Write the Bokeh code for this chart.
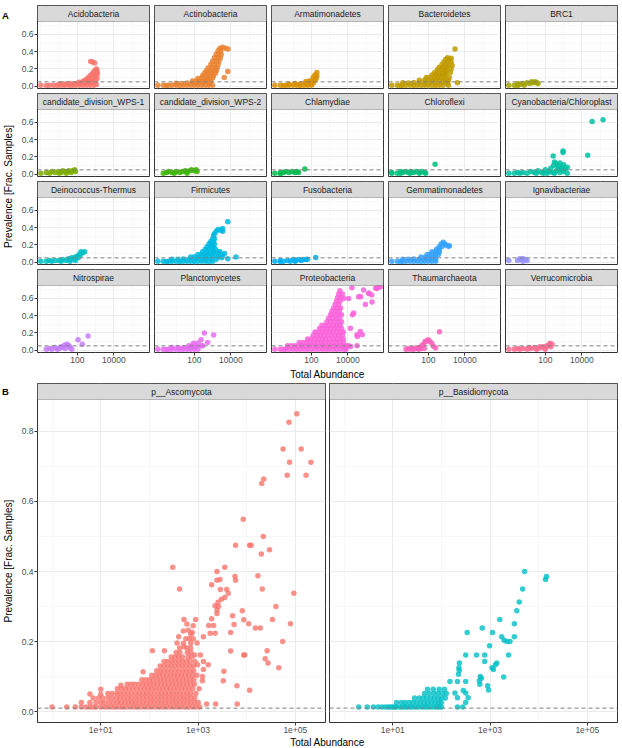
from bokeh.plotting import figure
from bokeh.models import (Range1d, FixedTicker, LinearAxis, LogAxis, Grid,
                          BoxAnnotation, Span, Label, CustomJSTickFormatter,
                          ColumnDataSource)
from bokeh.layouts import row, column
from bokeh.embed import file_html
from bokeh.resources import INLINE

FONT = "Liberation Sans"

# ---------------------------------------------------------------------------
# Bacterial phyla: (total abundance, prevalence [fraction of samples]) per taxon
# ---------------------------------------------------------------------------
acidobacteria = [
    (1, .010), (2, .008), (3, .012), (5, .010), (8, .009), (13, .011), (20, .010), (32, .012),
    (50, .009), (79, .011), (126, .010), (200, .012), (316, .010), (501, .011), (794, .012), (1100, .020),
    (10, .025), (16, .028), (25, .022), (40, .030), (63, .027), (100, .035), (158, .030), (251, .028),
    (398, .030), (631, .035),
    (126, .045), (200, .055), (251, .065), (316, .050), (316, .080), (398, .070), (398, .100), (501, .060),
    (501, .090), (501, .120), (631, .080), (631, .110), (631, .140), (794, .100), (794, .130), (794, .170),
    (891, .150), (1000, .120), (1000, .190), (1100, .160), (1120, .200), (1000, .060), (1200, .090),
    (1200, .180), (1259, .140),
    (540, .285), (708, .280), (891, .270), (1000, .175),
]
actinobacteria = [
    (1, .010), (2, .010), (3, .008), (4, .012), (6, .010), (10, .011), (16, .009), (25, .010),
    (40, .012), (63, .010), (100, .011), (158, .010), (251, .012), (398, .010), (631, .011), (1000, .012),
    (10, .035), (20, .032), (40, .038), (79, .035), (158, .036), (316, .034), (631, .038),
    (79, .060), (126, .062), (200, .058), (316, .060), (501, .064), (794, .060),
    (158, .090), (251, .092), (398, .088), (631, .090), (1000, .094),
    (282, .120), (447, .122), (708, .118), (1122, .120),
    (355, .150), (562, .152), (891, .148), (1413, .150),
    (447, .180), (708, .182), (1122, .178), (1585, .180),
    (562, .210), (891, .212), (1413, .208), (1778, .210),
    (794, .250), (1259, .252), (1995, .248),
    (1000, .290), (1585, .292), (2239, .288),
    (1259, .330), (1995, .332), (2630, .328),
    (1585, .370), (2239, .372), (2951, .368),
    (1995, .410), (2818, .412),
    (2512, .440), (3548, .450), (5012, .440), (7079, .430),
    (6761, .170), (4365, .100), (676, .030),
]
armatimonadetes = [
    (1, .010), (2, .012), (3, .009), (4, .010), (6, .011), (10, .010), (16, .012), (25, .009),
    (40, .010), (63, .011), (100, .010),
    (6, .025), (13, .030), (25, .028), (50, .032), (79, .030), (126, .035),
    (50, .055), (79, .060), (112, .060), (158, .065),
    (126, .100), (178, .100), (158, .130), (200, .160), (200, .120), (178, .085),
]
bacteroidetes = [
    (1, .010), (2, .012), (3, .009), (4, .011), (6, .010), (10, .012), (16, .009), (25, .011),
    (40, .010), (63, .012), (100, .010), (158, .011), (251, .009), (398, .012), (631, .010),
    (4, .040), (8, .038), (16, .042), (32, .040), (63, .038), (126, .042), (251, .040), (501, .038),
    (891, .042), (1122, .040),
    (32, .070), (63, .072), (100, .068), (158, .070), (251, .072), (398, .068), (708, .070), (1259, .070),
    (79, .100), (126, .102), (200, .098), (316, .100), (501, .102), (794, .098), (1413, .100),
    (158, .130), (251, .132), (398, .128), (631, .130), (891, .132),
    (224, .160), (355, .162), (562, .158), (891, .160), (1585, .160),
    (316, .190), (501, .192), (794, .188), (1000, .190),
    (398, .220), (631, .222), (1000, .218), (1778, .200),
    (562, .250), (891, .252), (1413, .248), (1995, .240),
    (708, .280), (1122, .282), (1778, .278),
    (891, .310), (1413, .312), (1122, .330), (1778, .325),
    (2884, .430), (1259, .010), (3890, .040),
]
brc1 = [
    (1, .010), (2, .010), (3, .030), (4, .020), (6, .030), (7, .010), (10, .040), (14, .030),
    (18, .050), (22, .040), (28, .050), (35, .040), (40, .030), (3, .005),
]
wps1 = [
    (1, .010), (2, .020), (3, .010), (4, .030), (6, .020), (9, .030), (13, .020), (16, .040),
    (20, .030), (28, .030), (35, .040), (45, .020), (56, .040), (71, .050), (79, .030), (10, .010), (25, .010),
]
wps2 = [
    (2, .010), (3, .020), (4, .030), (6, .020), (10, .030), (16, .020), (22, .030), (32, .040),
    (40, .030), (56, .040), (71, .050), (100, .040), (126, .050), (141, .030), (8, .010), (40, .010),
]
chlamydiae = [
    (1, .010), (2, .020), (2, .005), (3, .020), (4, .030), (6, .020), (9, .030), (13, .020),
    (16, .030), (20, .020), (44, .060),
]
chloroflexi = [
    (1, .010), (1, .020), (2, .010), (3, .030), (4, .020), (6, .030), (8, .020), (11, .030),
    (16, .020), (22, .030), (32, .020), (45, .030), (63, .020), (71, .010), (3, .010), (10, .010),
    (32, .010), (234, .115),
]
cyanobacteria = [
    (1, .010), (2, .010), (3, .020), (4, .010), (6, .020), (10, .010), (16, .030), (25, .020),
    (40, .040), (63, .020), (100, .050), (158, .030), (251, .020), (398, .040), (631, .020), (1000, .030),
    (1585, .010), (32, .010), (79, .010), (126, .010), (316, .010), (501, .060), (794, .050), (1259, .060),
    (200, .070), (282, .100), (398, .120), (501, .090), (631, .130), (794, .080), (1000, .110), (316, .140),
    (1585, .080), (269, .210), (933, .270), (933, .250), (20893, .220), (36308, .610), (144544, .630),
]
deinococcus = [
    (1, .010), (2, .010), (3, .020), (4, .010), (6, .020), (10, .020), (16, .030), (25, .020),
    (32, .040), (40, .030), (50, .050), (63, .040), (79, .060), (100, .070), (112, .050), (126, .090),
    (158, .120), (200, .110), (251, .120), (13, .010), (40, .010), (79, .020), (141, .080),
]
firmicutes = [
    (1, .010), (2, .011), (3, .009), (4, .012), (6, .010), (10, .011), (16, .009), (25, .012),
    (40, .010), (63, .011), (100, .009), (158, .012), (251, .010), (398, .011), (631, .009), (1000, .012),
    (6, .035), (13, .033), (25, .036), (50, .034), (100, .036), (200, .035), (398, .033), (794, .036), (1585, .035),
    (63, .060), (100, .062), (158, .058), (251, .060), (398, .062), (631, .058), (1000, .060), (1995, .062),
    (158, .090), (251, .092), (398, .088), (631, .090), (1000, .092), (1585, .088), (2818, .090),
    (282, .120), (447, .122), (708, .118), (1122, .120), (1995, .122),
    (398, .150), (631, .152), (1000, .148), (1413, .150),
    (501, .180), (794, .182), (1122, .178),
    (631, .210), (891, .212), (1259, .208),
    (794, .240), (1122, .242), (1000, .270), (1259, .272),
    (1122, .310), (1259, .330), (1585, .360), (1995, .380), (2818, .370), (3548, .360), (3548, .390),
    (6761, .470),
    (4467, .100), (6761, .040), (19055, .060), (3162, .050), (2512, .120), (3548, .080),
]
fusobacteria = [
    (1, .010), (2, .020), (2, .005), (3, .010), (5, .020), (7, .010), (10, .030), (14, .020),
    (20, .030), (28, .020), (35, .030), (50, .030), (63, .035), (13, .010), (174, .055),
]
gemmatimonadetes = [
    (1, .010), (2, .012), (3, .009), (4, .011), (6, .010), (10, .012), (16, .010), (25, .011),
    (40, .009), (63, .012), (100, .010), (158, .011), (251, .010),
    (4, .035), (8, .033), (16, .036), (32, .034), (63, .036), (126, .035), (251, .037),
    (40, .060), (71, .062), (126, .058), (224, .060),
    (89, .090), (141, .092), (251, .088), (355, .090),
    (158, .120), (251, .122), (398, .118),
    (282, .150), (398, .152),
    (398, .180), (562, .182), (1259, .185),
    (501, .210), (794, .212), (661, .230), (891, .200), (1413, .190),
]
ignavibacteriae = [
    (1, .020), (3, .020), (4, .040), (5, .030), (6, .040), (8, .030), (10, .020), (6, .010),
]
nitrospirae = [
    (2, .010), (3, .020), (4, .010), (6, .030), (8, .010), (10, .020), (13, .040), (16, .030),
    (20, .060), (22, .020), (28, .070), (35, .050), (40, .030), (50, .010), (110, .120), (186, .070),
    (389, .165),
]
planctomycetes = [
    (1, .010), (2, .012), (3, .009), (4, .011), (6, .010), (10, .012), (16, .009), (25, .011),
    (40, .010), (63, .012), (100, .010), (158, .011),
    (6, .030), (13, .032), (25, .028), (50, .030), (100, .032),
    (50, .050), (79, .052), (126, .048), (251, .050),
    (89, .080), (158, .082),
    (234, .120), (355, .200), (537, .090), (1148, .175), (282, .050),
]
proteobacteria = [
    (1, .010), (2, .010), (3, .010), (4, .010), (6, .010), (10, .010), (16, .010), (25, .010),
    (40, .010), (63, .010), (100, .010), (158, .010), (251, .010), (398, .010), (631, .010), (1000, .010),
    (1585, .010), (2512, .010), (3981, .010), (6310, .010), (7943, .010),
    (5, .050), (8, .050), (13, .050), (20, .050), (32, .050), (50, .050), (79, .050), (126, .050),
    (200, .050), (316, .050), (501, .050), (794, .050), (1259, .050), (1995, .050), (3162, .050),
    (5012, .050), (7943, .050),
    (22, .090), (35, .090), (56, .090), (89, .090), (141, .090), (224, .090), (355, .090), (562, .090),
    (891, .090), (1413, .090), (2239, .090), (3548, .090), (5623, .090),
    (63, .130), (100, .130), (158, .130), (251, .130), (398, .130), (631, .130), (1000, .130),
    (1585, .130), (2512, .130), (3981, .130), (5623, .130),
    (126, .170), (200, .170), (316, .170), (501, .170), (794, .170), (1259, .170), (1995, .170),
    (3162, .170), (5012, .170),
    (158, .210), (251, .210), (398, .210), (631, .210), (1000, .210), (1585, .210), (2512, .210),
    (3981, .210), (5623, .210),
    (282, .250), (447, .250), (708, .250), (1122, .250), (1778, .250), (2818, .250), (4467, .250),
    (380, .290), (603, .290), (955, .290), (1514, .290), (2399, .290), (3802, .290),
    (708, .330), (1122, .330), (1778, .330), (2818, .330), (4467, .330),
    (891, .370), (1413, .370), (2239, .370), (3548, .370),
    (1122, .410), (1778, .410), (2818, .410), (4467, .410),
    (1349, .450), (2138, .450), (3388, .450),
    (1660, .490), (2630, .490), (3981, .490),
    (1995, .530), (3162, .530), (2399, .570), (3802, .570),
    (2754, .610), (3981, .610), (3162, .650), (5012, .650), (3631, .690),
    (16596, .724), (5888, .600), (10965, .600), (38905, .620), (72444, .697), (138038, .660),
    (389045, .716), (478630, .730), (208930, .560), (91201, .530), (20893, .430), (13804, .255),
    (31623, .178), (47863, .216), (8913, .043), (10965, .050), (31623, .050), (14125, .043),
    (33113, .158), (61660, .178), (17783, .410), (50119, .620), (144544, .660), (199526, .640),
    (331131, .717), (616595, .735),
]
thaumarchaeota = [
    (6, .010), (8, .020), (10, .010), (13, .020), (16, .010), (20, .025), (25, .020), (32, .030),
    (40, .020), (44, .055), (55, .070), (66, .100), (85, .110), (100, .120), (120, .100), (155, .080),
    (190, .045), (251, .025), (60, .020), (30, .010), (407, .215),
]
verrucomicrobia = [
    (1, .010), (2, .010), (3, .020), (4, .010), (6, .020), (10, .010), (16, .020), (25, .030),
    (40, .020), (63, .030), (79, .040), (100, .030), (126, .050), (158, .060), (178, .080), (234, .070),
    (200, .040), (13, .030), (32, .010), (50, .040), (100, .010),
]

bacteria_phyla = [
    "Acidobacteria", "Actinobacteria", "Armatimonadetes", "Bacteroidetes", "BRC1",
    "candidate_division_WPS-1", "candidate_division_WPS-2", "Chlamydiae", "Chloroflexi",
    "Cyanobacteria/Chloroplast", "Deinococcus-Thermus", "Firmicutes", "Fusobacteria",
    "Gemmatimonadetes", "Ignavibacteriae", "Nitrospirae", "Planctomycetes", "Proteobacteria",
    "Thaumarchaeota", "Verrucomicrobia",
]
bacteria_points = [
    acidobacteria, actinobacteria, armatimonadetes, bacteroidetes, brc1, wps1, wps2, chlamydiae,
    chloroflexi, cyanobacteria, deinococcus, firmicutes, fusobacteria, gemmatimonadetes,
    ignavibacteriae, nitrospirae, planctomycetes, proteobacteria, thaumarchaeota, verrucomicrobia,
]
bacteria_colors = [
    "#F8766D", "#EA8331", "#D89000", "#C09B00", "#A3A500", "#7CAE00", "#39B600", "#00BB4E",
    "#00BF7D", "#00C1A3", "#00BFC4", "#00BAE0", "#00B0F6", "#35A2FF", "#9590FF", "#C77CFF",
    "#E76BF3", "#FA62DB", "#FF62BC", "#FF6C91",
]

# ---------------------------------------------------------------------------
# Fungal phyla
# ---------------------------------------------------------------------------
ascomycota = [
    (1, .013), (2, .013), (3, .013), (4, .013), (5, .013), (6, .013), (7, .013), (8, .013), (10, .013),
    (12, .013), (14, .013), (17, .013), (20, .013), (24, .013), (28, .013), (33, .013), (40, .013),
    (48, .013), (56, .013), (66, .013), (80, .013), (95, .013), (112, .013), (135, .013), (160, .013),
    (190, .013), (225, .013), (270, .013), (320, .013), (380, .013), (450, .013), (540, .013),
    (640, .013), (760, .013), (900, .013), (1080, .013),
    (4, .026), (6, .026), (8, .026), (10, .026), (12, .026), (15, .026), (18, .026), (22, .026),
    (26, .026), (31, .026), (37, .026), (44, .026), (52, .026), (62, .026), (74, .026), (88, .026),
    (105, .026), (125, .026), (150, .026), (178, .026), (210, .026), (250, .026), (300, .026),
    (355, .026), (420, .026), (500, .026), (600, .026), (710, .026), (850, .026), (1010, .026),
    (7, .039), (9, .039), (11, .039), (14, .039), (17, .039), (21, .039), (25, .039), (30, .039),
    (36, .039), (43, .039), (52, .039), (62, .039), (74, .039), (88, .039), (105, .039), (125, .039),
    (150, .039), (178, .039), (212, .039), (252, .039), (300, .039), (357, .039), (425, .039),
    (506, .039), (602, .039), (716, .039), (852, .039),
    (14, .052), (17, .052), (21, .052), (25, .052), (30, .052), (36, .052), (43, .052), (52, .052),
    (62, .052), (74, .052), (88, .052), (105, .052), (125, .052), (150, .052), (178, .052),
    (212, .052), (252, .052), (300, .052), (357, .052), (425, .052), (506, .052), (602, .052),
    (716, .052), (900, .052),
    (22, .065), (27, .065), (32, .065), (38, .065), (46, .065), (55, .065), (66, .065), (79, .065),
    (94, .065), (112, .065), (134, .065), (160, .065), (190, .065), (227, .065), (270, .065),
    (322, .065), (384, .065), (457, .065), (545, .065), (650, .065), (775, .065), (1050, .065),
    (35, .078), (42, .078), (50, .078), (60, .078), (72, .078), (86, .078), (103, .078), (122, .078),
    (146, .078), (174, .078), (207, .078), (247, .078), (294, .078), (350, .078), (418, .078),
    (498, .078), (593, .078), (707, .078), (843, .078),
    (70, .091), (84, .091), (100, .091), (119, .091), (142, .091), (169, .091), (201, .091),
    (240, .091), (286, .091), (341, .091), (406, .091), (484, .091), (577, .091), (687, .091),
    (820, .091),
    (112, .104), (134, .104), (160, .104), (190, .104), (227, .104), (270, .104), (322, .104),
    (384, .104), (457, .104), (545, .104), (650, .104), (775, .104), (940, .104),
    (141, .117), (168, .117), (200, .117), (238, .117), (284, .117), (338, .117), (403, .117),
    (480, .117), (572, .117), (682, .117), (812, .117),
    (166, .130), (198, .130), (236, .130), (281, .130), (335, .130), (399, .130), (475, .130),
    (566, .130), (675, .130), (804, .130),
    (200, .143), (238, .143), (284, .143), (338, .143), (403, .143), (480, .143), (572, .143),
    (682, .143), (860, .143),
    (282, .156), (336, .156), (400, .156), (477, .156), (620, .156), (740, .156),
    (355, .169), (423, .169), (600, .169), (715, .169),
    (417, .182), (592, .182), (705, .182),
    (500, .195), (710, .195),
    (562, .208), (670, .208), (798, .208),
    (708, .221),
    (6, .050), (10, .064), (10, .050), (26, .075), (74, .114), (115, .174), (204, .174),
    (302, .412), (417, .350), (513, .263), (891, .263),
    (400, .214), (500, .230), (630, .232), (370, .196), (513, .185), (955, .196),
    (794, .245), (589, .250), (760, .226),
    (850, .162), (1120, .162), (1290, .143), (1620, .134), (1290, .120), (980, .134),
    (1230, .100), (1230, .088), (3400, .115), (3300, .088), (6300, .074), (11500, .061),
    (6400, .022), (2300, .022), (1500, .022),
    (1660, .246), (2090, .246), (1778, .224), (2240, .224), (1290, .214),
    (1900, .265), (2450, .280), (2450, .290), (2630, .300), (2240, .302), (2570, .312),
    (3020, .321), (3550, .326), (4170, .338), (3890, .349),
    (1900, .362), (2450, .375), (2880, .349), (2820, .377), (2450, .400), (3550, .412),
    (5750, .386), (5900, .375), (17000, .388), (20900, .350),
    (5130, .274), (5500, .249), (4680, .226), (4680, .173),
    (8130, .288), (8710, .262), (10960, .251), (15140, .239), (19050, .239),
    (39800, .300), (33900, .263), (93300, .338), (79400, .251), (55000, .200),
    (26300, .174), (24000, .151), (27500, .139), (45700, .125), (8700, .162), (9100, .162),
    (8500, .549), (21900, .500), (5900, .475), (11500, .475), (12300, .475), (20000, .450),
    (29500, .462),
    (22400, .664), (20400, .651), (68000, .675), (166000, .675), (76000, .712), (209000, .712),
    (56000, .750), (132000, .750), (74000, .826), (107000, .850),
]
basidiomycota = [
    (2, .013), (3, .013), (4, .013), (5, .013), (6, .013), (7, .013), (8, .013), (9, .013), (10, .013),
    (11, .013), (12, .013), (14, .013), (16, .013), (18, .013), (20, .013), (23, .013), (26, .013),
    (30, .013), (34, .013), (40, .013), (46, .013), (52, .013), (60, .013), (70, .013), (80, .013),
    (90, .013), (100, .013), (214, .013), (275, .013),
    (12, .026), (15, .026), (18, .026), (22, .026), (26, .026), (31, .026), (37, .026), (44, .026),
    (52, .026), (62, .026), (74, .026), (88, .026), (100, .026), (316, .026),
    (28, .039), (35, .039), (42, .039), (50, .039), (60, .039), (72, .039), (86, .039), (100, .039),
    (120, .039), (214, .040), (355, .040),
    (45, .052), (56, .052), (70, .052), (85, .052), (105, .052), (126, .052), (190, .053), (316, .053),
    (52, .064), (68, .064), (90, .064), (115, .064), (282, .060),
    (150, .086), (214, .086), (316, .086),
    (225, .107), (229, .125), (234, .139), (232, .118),
    (316, .162), (339, .226), (525, .162), (776, .162), (692, .239),
    (631, .100), (603, .088), (617, .078), (661, .095), (891, .074), (933, .062),
    (977, .188), (776, .143), (1122, .226), (1096, .125), (1288, .134), (1380, .139), (1175, .120),
    (1585, .263), (1738, .214), (1950, .204), (2240, .200), (2570, .200), (3160, .214), (3160, .251),
    (1905, .099), (2400, .162), (3550, .288), (3980, .313), (4680, .350), (5130, .400),
    (14450, .386), (13800, .377),
]

fungi_phyla = ["p__Ascomycota", "p__Basidiomycota"]
fungi_points = [ascomycota, basidiomycota]
fungi_colors = ["#F8766D", "#00BFC4"]

# axis breaks and cut-off lines
a_xticks, a_xminor = [100, 10000], [1, 10, 1000, 100000]
a_yticks, a_yminor = [0.0, 0.2, 0.4, 0.6], [0.1, 0.3, 0.5, 0.7]
a_cutoff = 0.05
b_xticks, b_xminor = [10, 1000, 100000], [1, 100, 10000]
b_yticks, b_yminor = [0.0, 0.2, 0.4, 0.6, 0.8], [0.1, 0.3, 0.5, 0.7]
b_cutoff = 0.01

A_XLIM = (10 ** -0.18, 10 ** 5.95)
A_YLIM = (-0.027, 0.75)
B_XLIM = (10 ** -0.30, 10 ** 5.62)
B_YLIM = (-0.031, 0.891)

STRIP = 16


def style_axis(ax):
    ax.axis_line_color = None
    ax.major_tick_line_color = "#333333"
    ax.major_tick_out = 3
    ax.major_tick_in = 0
    ax.minor_tick_line_color = None
    ax.major_label_text_font = FONT
    ax.major_label_text_font_size = "8.5px"
    ax.major_label_text_color = "#4D4D4D"
    ax.major_label_standoff = 1


def facet(name, pts, color, xlim, ylim, frame_w, frame_h, borders, xticks, xminor,
          yticks, yminor, cutoff, size, alpha, left_axis, bottom_axis, xfmt):
    bl, br, bt, bb = borders
    x0, x1 = xlim
    y0, y1 = ylim
    panel_h = frame_h - STRIP
    strip_top = y1 + (y1 - y0) * STRIP / panel_h
    p = figure(width=bl + frame_w + br, height=bt + frame_h + bb,
               x_axis_type="log", x_range=Range1d(x0, x1), y_range=Range1d(y0, strip_top),
               x_axis_location=None, y_axis_location=None,
               min_border_left=bl, min_border_right=br, min_border_top=bt, min_border_bottom=bb,
               toolbar_location=None, output_backend="svg")
    p.background_fill_color = "white"
    p.border_fill_color = "white"
    p.outline_line_color = "#333333"
    p.outline_line_width = 1
    p.xgrid.visible = False
    p.ygrid.visible = False
    for dim, tk, mn in ((0, xticks, xminor), (1, yticks, yminor)):
        p.add_layout(Grid(dimension=dim, ticker=FixedTicker(ticks=tk, minor_ticks=mn),
                          grid_line_color="#EBEBEB", grid_line_width=1,
                          minor_grid_line_color="#F1F1F1", minor_grid_line_width=0.6))

    src = ColumnDataSource(dict(abundance=[a for a, _ in pts], prevalence=[v for _, v in pts]))
    p.scatter("abundance", "prevalence", source=src, size=size, marker="circle",
              fill_color=color, fill_alpha=alpha, line_color=None)
    p.add_layout(Span(location=cutoff, dimension="width", line_color="#7F7F7F",
                      line_width=1, line_dash="4 3"))

    # facet strip
    p.add_layout(BoxAnnotation(left=x0, right=x1, bottom=y1, top=strip_top,
                               fill_color="#D9D9D9", fill_alpha=1.0,
                               line_color="#333333", line_width=1))
    p.add_layout(Label(x=(x0 * x1) ** 0.5, y=(y1 + strip_top) / 2, text=name,
                       text_align="center", text_baseline="middle", text_font=FONT,
                       text_font_size="8.5px", text_color="#1A1A1A"))

    if left_axis:
        ax = LinearAxis(ticker=FixedTicker(ticks=yticks),
                        formatter=CustomJSTickFormatter(code="return tick.toFixed(1);"))
        style_axis(ax)
        p.add_layout(ax, "left")
    if bottom_axis:
        ax = LogAxis(ticker=FixedTicker(ticks=xticks), formatter=xfmt)
        style_axis(ax)
        p.add_layout(ax, "below")
    return p


def text_panel(width, height, labels):
    p = figure(width=width, height=height, x_range=Range1d(0, width), y_range=Range1d(0, height),
               x_axis_location=None, y_axis_location=None, min_border=0,
               toolbar_location=None, output_backend="svg")
    p.outline_line_color = None
    p.background_fill_color = "white"
    p.border_fill_color = "white"
    p.xgrid.visible = False
    p.ygrid.visible = False
    for lab in labels:
        p.add_layout(lab)
    return p


def axis_title(x, y, text, angle=0):
    return Label(x=x, y=y, text=text, angle=angle, angle_units="deg", text_align="center",
                 text_baseline="middle", text_font=FONT, text_font_size="10px", text_color="black")


def tag(x, y, text):
    return Label(x=x, y=y, text=text, text_align="center", text_baseline="alphabetic",
                 text_font=FONT, text_font_size="9.5px", text_font_style="bold", text_color="black")


# ---------------------------------------------------------------------------
# Panel A: 4 x 5 facets of bacterial phyla
# ---------------------------------------------------------------------------
fmt_a = CustomJSTickFormatter(code="return tick.toFixed(0);")
col_b = [(22, 2), (3, 2), (3, 2), (3, 2), (3, 2)]
row_b = [(5, 2), (3, 2), (3, 2), (3, 14)]
rows_a = []
for r in range(4):
    figs = []
    for c in range(5):
        i = r * 5 + c
        bl, br = col_b[c]
        bt, bb = row_b[r]
        figs.append(facet(bacteria_phyla[i], bacteria_points[i], bacteria_colors[i],
                          A_XLIM, A_YLIM, 112, 83, (bl, br, bt, bb),
                          a_xticks, a_xminor, a_yticks, a_yminor, a_cutoff, 5.5, 0.85,
                          c == 0, r == 3, fmt_a))
    rows_a.append(row(figs))
grid_a = column(rows_a)

ylab_a = text_panel(15, 366, [axis_title(8, 180, "Prevalence [Frac. Samples]", 90),
                              tag(5, 351, "A")])
xlab_a = text_panel(619, 15, [axis_title(327, 7.5, "Total Abundance")])

# ---------------------------------------------------------------------------
# Panel B: fungal phyla
# ---------------------------------------------------------------------------
fmt_b = CustomJSTickFormatter(
    code="const e = Math.round(Math.log10(tick)); return '1e+' + (e < 10 ? '0' : '') + e;")
b_figs = []
for j, (bl, br) in enumerate([(22, 2), (2, 2)]):
    b_figs.append(facet(fungi_phyla[j], fungi_points[j], fungi_colors[j],
                        B_XLIM, B_YLIM, 288, STRIP + 323, (bl, br, 2, 14),
                        b_xticks, b_xminor, b_yticks, b_yminor, b_cutoff, 5.5, 0.8,
                        j == 0, True, fmt_b))

ylab_b = text_panel(15, 355, [axis_title(8, 169, "Prevalence [Frac. Samples]", 90),
                              tag(5, 347, "B")])
xlab_b = text_panel(619, 12, [axis_title(327, 6, "Total Abundance")])

page = column(row(ylab_a, grid_a), xlab_a, row(ylab_b, *b_figs), xlab_b)

open("out.html", "w").write(file_html(page, INLINE))
